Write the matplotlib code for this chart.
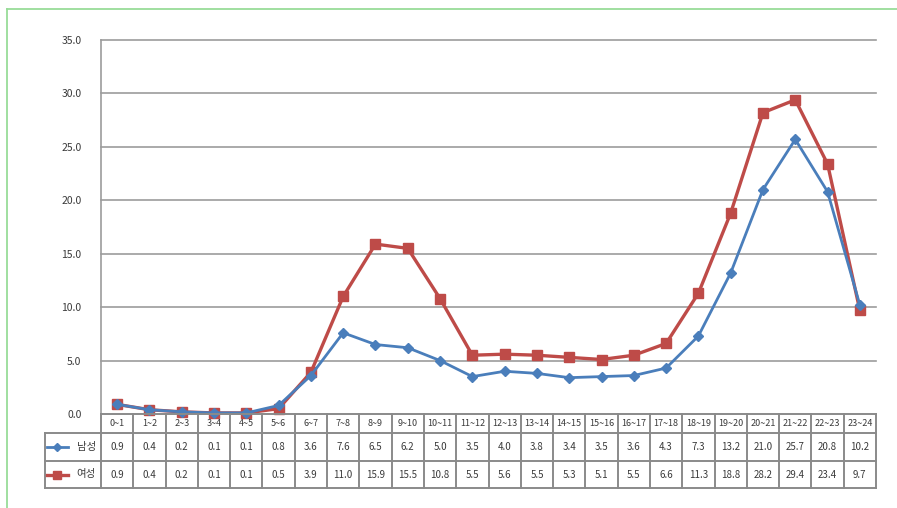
import matplotlib
matplotlib.use('Agg')
import matplotlib.pyplot as plt
from matplotlib.lines import Line2D

plt.rcParams['font.family'] = ['Noto Sans CJK KR', 'DejaVu Sans']

# ── data ──────────────────────────────────────────────────────────────────────
hours = ['0~1', '1~2', '2~3', '3~4', '4~5', '5~6', '6~7', '7~8', '8~9', '9~10',
         '10~11', '11~12', '12~13', '13~14', '14~15', '15~16', '16~17', '17~18',
         '18~19', '19~20', '20~21', '21~22', '22~23', '23~24']
male = [0.9, 0.4, 0.2, 0.1, 0.1, 0.8, 3.6, 7.6, 6.5, 6.2, 5.0, 3.5,
        4.0, 3.8, 3.4, 3.5, 3.6, 4.3, 7.3, 13.2, 21.0, 25.7, 20.8, 10.2]
female = [0.9, 0.4, 0.2, 0.1, 0.1, 0.5, 3.9, 11.0, 15.9, 15.5, 10.8, 5.5,
          5.6, 5.5, 5.3, 5.1, 5.5, 6.6, 11.3, 18.8, 28.2, 29.4, 23.4, 9.7]
series_names = ['남성', '여성']
yticks = [0, 5, 10, 15, 20, 25, 30, 35]

BLUE = '#4a7ebb'
RED = '#be4b48'
GRID = '#9c9c9c'
TXT = '#3a3a3a'

W, H = 897, 508
fig = plt.figure(figsize=(W / 100, H / 100), dpi=100)

def fx(px):
    return px / W

def fy(py):
    return 1 - py / H

# ── plot area ─────────────────────────────────────────────────────────────────
x_left, x_right = 101, 876
y_top, y_bot = 40, 414
ax = fig.add_axes([fx(x_left), fy(y_bot), fx(x_right - x_left), (y_bot - y_top) / H])
n = len(hours)
xs = [i + 0.5 for i in range(n)]
ax.set_xlim(0, n)
ax.set_ylim(0, 35)
ax.set_yticks(yticks)
ax.set_yticklabels([f'{v:.1f}' for v in yticks], fontsize=7.5, color=TXT)
ax.tick_params(axis='y', length=0, pad=14)
ax.set_xticks([])
for s in ['top', 'right', 'bottom']:
    ax.spines[s].set_visible(False)
ax.spines['left'].set_color(GRID)
ax.spines['left'].set_linewidth(1.2)
for v in yticks[1:]:
    ax.axhline(v, color=GRID, linewidth=1.2, zorder=0, clip_on=False)

ax.plot(xs, male, color=BLUE, lw=2.0, marker='D', ms=5, mec=BLUE, mfc=BLUE,
        zorder=3, clip_on=False)
ax.plot(xs, female, color=RED, lw=2.4, marker='s', ms=6.5, mec=RED, mfc=RED,
        zorder=2, clip_on=False)

# ── data table ────────────────────────────────────────────────────────────────
lab_left = 45
rows = [414, 433, 461, 488]          # pixel rows: header / 남성 / 여성
colw = (x_right - x_left) / n
k = (x_left - lab_left) / colw
tot = rows[-1] - rows[0]
tax = fig.add_axes([fx(lab_left), fy(rows[-1]), fx(x_right - lab_left), tot / H])
tax.set_xlim(-k, n)
tax.set_ylim(tot, 0)
tax.axis('off')
edges = [r - rows[0] for r in rows]

tab_kw = dict(color='#8a8a8a', lw=1.4, clip_on=False)
tax.plot([0, n], [0, 0], **tab_kw)
for r in edges[1:]:
    tax.plot([-k, n], [r, r], **tab_kw)
tax.plot([-k, -k], [edges[1], edges[3]], **tab_kw)
for i in range(n + 1):
    tax.plot([i, i], [0, edges[3]], **tab_kw)

hc = (edges[0] + edges[1]) / 2
c1 = (edges[1] + edges[2]) / 2
c2 = (edges[2] + edges[3]) / 2
for i, h in enumerate(hours):
    tax.text(i + 0.5, hc, h, ha='center', va='center', fontsize=6.5, color=TXT)
    tax.text(i + 0.5, c1, f'{male[i]:.1f}', ha='center', va='center', fontsize=7, color=TXT)
    tax.text(i + 0.5, c2, f'{female[i]:.1f}', ha='center', va='center', fontsize=7, color=TXT)

# legend keys inside the label column
def px2x(px):
    return (px - x_left) / colw

for cy, col, mk, ms, lw, name in [(c1, BLUE, 'D', 4.5, 2.0, series_names[0]),
                                  (c2, RED, 's', 5.5, 2.4, series_names[1])]:
    tax.plot([px2x(47), px2x(68)], [cy, cy], color=col, lw=lw, clip_on=False)
    tax.plot([px2x(57)], [cy], color=col, marker=mk, ms=ms, clip_on=False)
    tax.text(px2x(96), cy, name, ha='right', va='center', fontsize=7.5, color=TXT)

# ── green frame around the chart ──────────────────────────────────────────────
frame = dict(color='#98dc98', lw=1.3, transform=fig.transFigure)
fig.lines.append(Line2D([fx(7), fx(7)], [fy(9), 0], **frame))
fig.lines.append(Line2D([fx(7), 1], [fy(9), fy(9)], **frame))

fig.savefig('out.png', dpi=100)
